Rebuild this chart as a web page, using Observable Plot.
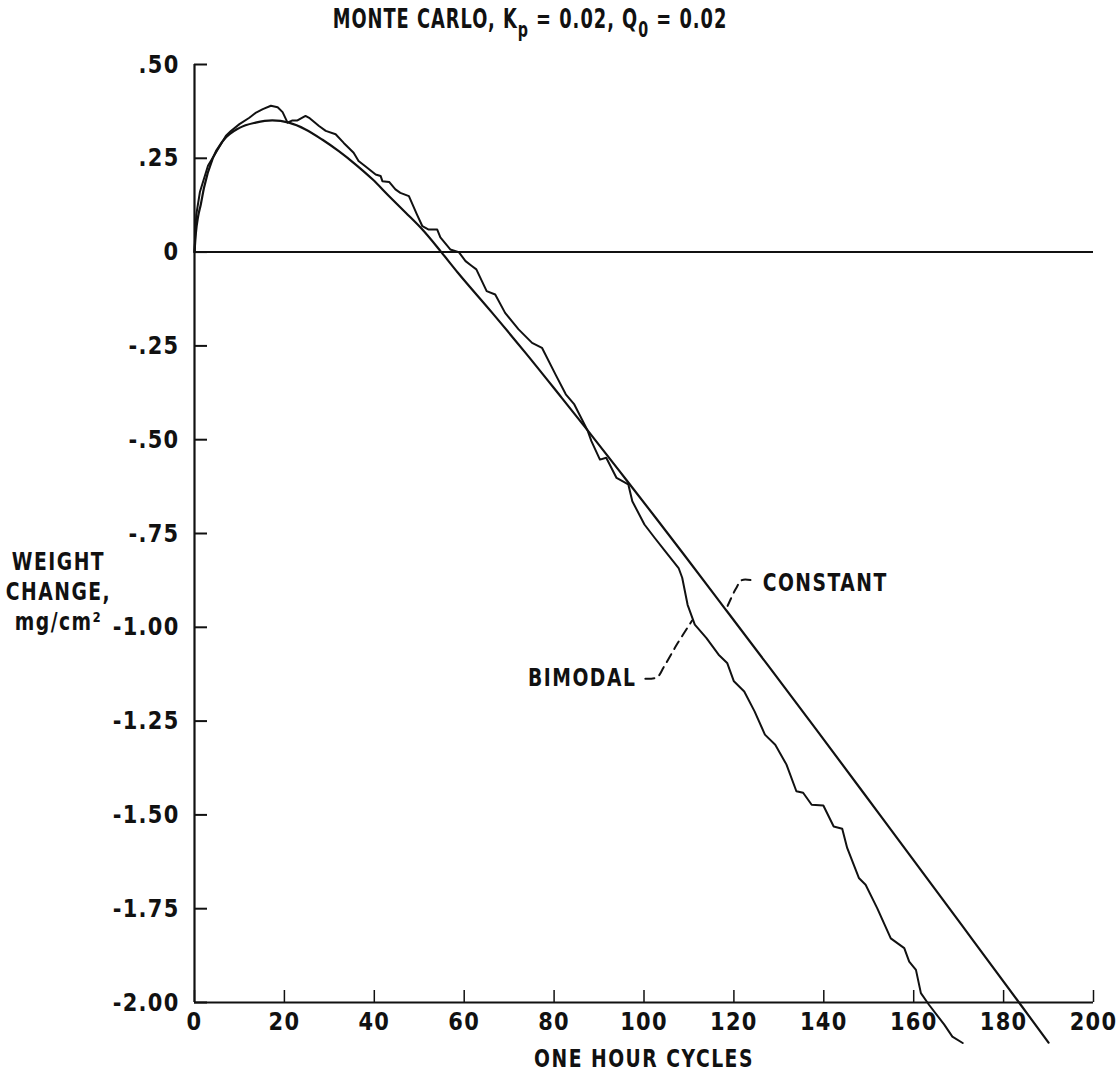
<!DOCTYPE html>
<html><head><meta charset="utf-8">
<script src="https://cdn.jsdelivr.net/npm/d3@7"></script>
<script src="https://cdn.jsdelivr.net/npm/@observablehq/plot@0.6"></script>
<style>
body{margin:0;background:#fff;width:1119px;height:1071px;overflow:hidden;font-family:"DejaVu Sans",sans-serif;}
#title{position:absolute;left:0;top:5px;width:1060px;text-align:center;font-size:27px;font-weight:bold;line-height:27px;color:#111;white-space:nowrap}
#title span{display:inline-block;transform:scaleX(0.66);transform-origin:center;letter-spacing:1.5px}
#title sub{font-size:80%;vertical-align:-0.4em;line-height:0}
#chart{position:absolute;left:0;top:48px}
</style></head><body>
<div id="title"><span>MONTE CARLO, K<sub>p</sub> = 0.02, Q<sub>0</sub> = 0.02</span></div>
<div id="chart"></div>
<script>
// ---- data ----
const constantX = [0, 0.3, 0.8, 1.4, 2.1, 4.1, 6.3, 10.0, 13.6, 17.3, 21.0, 24.7, 28.4, 32.1, 35.8, 39.6, 43.3, 47.0, 50.7, 54.9, 58.6, 66.1, 73.6, 81.2, 87.2, 96.0, 102.6, 109.0, 118.0, 127.8, 138.3, 152.6, 170.7, 183.8, 190.0];
const constantY = [0, 0.05, 0.095, 0.127, 0.171, 0.251, 0.296, 0.331, 0.345, 0.351, 0.345, 0.327, 0.300, 0.269, 0.234, 0.194, 0.149, 0.105, 0.060, 0.0, -0.055, -0.160, -0.268, -0.381, -0.471, -0.606, -0.708, -0.808, -0.950, -1.105, -1.272, -1.502, -1.794, -2.006, -2.107];

const bimodalX = [0, 0.2, 0.4, 1.2, 3.0, 5.0, 7.0, 8.1, 10.0, 12.2, 13.7, 15.2, 17.0, 18.5, 19.6, 20.7, 21.8, 22.9, 24.7, 25.5, 27.7, 29.2, 31.4, 33.2, 35.4, 36.5, 38.0, 40.3, 41.4, 41.8, 43.3, 44.7, 45.8, 47.7, 49.5, 50.7, 52.1, 54.0, 54.7, 56.9, 58.8, 60.3, 61.7, 62.7, 65.0, 66.9, 69.1, 70.6, 72.1, 75.1, 77.3, 80.3, 82.6, 84.5, 87.5, 88.3, 90.2, 91.6, 93.9, 96.5, 97.4, 100.1, 102.4, 104.7, 107.7, 108.5, 109.7, 111.3, 113.9, 116.6, 118.5, 120.0, 122.3, 124.6, 126.9, 129.2, 131.7, 133.9, 135.4, 137.3, 139.9, 142.2, 144.1, 145.2, 147.8, 149.3, 151.9, 154.9, 157.9, 159.0, 160.5, 161.6, 163.4, 166.8, 168.6, 170.9];
const bimodalY = [0, 0.06, 0.10, 0.16, 0.23, 0.27, 0.31, 0.323, 0.341, 0.358, 0.372, 0.381, 0.390, 0.386, 0.373, 0.345, 0.351, 0.351, 0.363, 0.358, 0.336, 0.323, 0.314, 0.291, 0.265, 0.243, 0.229, 0.207, 0.203, 0.189, 0.187, 0.167, 0.158, 0.149, 0.100, 0.069, 0.060, 0.060, 0.039, 0.007, 0.0, -0.024, -0.037, -0.046, -0.104, -0.113, -0.162, -0.184, -0.206, -0.242, -0.255, -0.326, -0.379, -0.406, -0.477, -0.504, -0.553, -0.548, -0.602, -0.619, -0.664, -0.726, -0.762, -0.797, -0.842, -0.868, -0.940, -0.993, -1.029, -1.073, -1.095, -1.144, -1.171, -1.224, -1.286, -1.313, -1.366, -1.437, -1.441, -1.473, -1.475, -1.531, -1.537, -1.588, -1.668, -1.686, -1.749, -1.829, -1.855, -1.891, -1.913, -1.975, -2.006, -2.059, -2.091, -2.108];

const xTicks = [0, 20, 40, 60, 80, 100, 120, 140, 160, 180, 200];
const xTickLabels = ["0", "20", "40", "60", "80", "100", "120", "140", "160", "180", "200"];
const yTicks = [0.5, 0.25, 0, -0.25, -0.5, -0.75, -1, -1.25, -1.5, -1.75, -2];
const yTickLabels = [".50", ".25", "0", "-.25", "-.50", "-.75", "-1.00", "-1.25", "-1.50", "-1.75", "-2.00"];

const xLabel = "ONE HOUR CYCLES";
const yLabel = "WEIGHT\nCHANGE,\nmg/cm\u00B2";

// annotations (data-space anchors)
const labelConstant = {text: "CONSTANT", x: 126.4, y: -0.881};
const labelBimodal = {text: "BIMODAL", x: 98.3, y: -1.136};
const leaderConstantX = [123.7, 121.8, 120.4, 118.6];
const leaderConstantY = [-0.874, -0.874, -0.898, -0.943];
const leaderBimodalX = [100.3, 102.9, 104.4, 107.4, 110.7];
const leaderBimodalY = [-1.137, -1.133, -1.106, -1.044, -0.982];

// ---- build tables ----
const constant = constantX.map((x, i) => ({x, y: constantY[i]}));
const bimodal = bimodalX.map((x, i) => ({x, y: bimodalY[i]}));
const leaderC = leaderConstantX.map((x, i) => ({x, y: leaderConstantY[i]}));
const leaderB = leaderBimodalX.map((x, i) => ({x, y: leaderBimodalY[i]}));

const FONT = '"DejaVu Sans",sans-serif';
const INK = "#111";

const chart = Plot.plot({
  width: 1119,
  height: 1023,
  marginTop: 16,
  marginBottom: 69,
  marginLeft: 194,
  marginRight: 26,
  x: {domain: [0, 200]},
  y: {domain: [-2, 0.5]},
  style: {fontFamily: FONT, fontSize: "25px", fontWeight: "bold", color: INK, background: "#fff", overflow: "visible"},
  marks: [
    Plot.axisY(yTicks, {
      label: null, tickSize: -13, tickPadding: 28, strokeWidth: 2,
      tickFormat: d => yTickLabels[yTicks.indexOf(d)], fontSize: 25
    }),
    Plot.axisX(xTicks, {
      label: null, tickSize: -12, tickPadding: 22, strokeWidth: 1.5,
      tickFormat: d => xTickLabels[xTicks.indexOf(d)], fontSize: 25
    }),
    Plot.ruleX([0], {stroke: INK, strokeWidth: 2.2}),
    Plot.ruleY([-2], {stroke: INK, strokeWidth: 2}),
    Plot.ruleY([0], {stroke: INK, strokeWidth: 2}),
    Plot.line(constant, {x: "x", y: "y", curve: "monotone-x", stroke: INK, strokeWidth: 2.2}),
    Plot.line(bimodal, {x: "x", y: "y", curve: "linear", stroke: INK, strokeWidth: 2}),
    Plot.line(leaderC, {x: "x", y: "y", curve: "catmull-rom", stroke: INK, strokeWidth: 2, strokeDasharray: "9,6"}),
    Plot.line(leaderB, {x: "x", y: "y", curve: "catmull-rom", stroke: INK, strokeWidth: 2, strokeDasharray: "9,6"}),
    Plot.text([labelConstant], {x: "x", y: "y", text: "text", textAnchor: "start", lineAnchor: "middle", fontSize: 25, fill: INK}),
    Plot.text([labelBimodal], {x: "x", y: "y", text: "text", textAnchor: "end", lineAnchor: "middle", fontSize: 25, fill: INK}),
    Plot.text([{t: yLabel, y: -0.902}], {y: "y", text: "t", frameAnchor: "left", dx: -136, textAnchor: "middle", lineAnchor: "middle", lineHeight: 1.2, fontSize: 25, fill: INK}),
    Plot.text([{t: xLabel, x: 100}], {x: "x", text: "t", frameAnchor: "bottom", dy: 56, textAnchor: "middle", lineAnchor: "middle", fontSize: 25, fill: INK})
  ]
});
document.getElementById("chart").appendChild(chart);

// condense the lettering (no narrow face installed): horizontal scale about each text's anchor
function condense(selection, factor, spacing) {
  selection.attr("letter-spacing", spacing).each(function () {
    const el = this;
    let t = el.getAttribute("transform") || "";
    const x = +(el.getAttribute("x") || 0), y = +(el.getAttribute("y") || 0);
    if (x || y) {
      t += ` translate(${x},${y})`;
      el.setAttribute("x", 0);
      el.setAttribute("y", 0);
    }
    el.setAttribute("transform", (t + ` scale(${factor},1)`).trim());
  });
}
const svg = d3.select(chart);
const tickTexts = svg.selectAll('g[aria-label$="tick label"] text');
const tickNodes = new Set(tickTexts.nodes());
condense(tickTexts, 0.84, "1.5px");
condense(svg.selectAll("text").filter(function () { return !tickNodes.has(this); }), 0.75, "2px");
</script>
</body></html>
